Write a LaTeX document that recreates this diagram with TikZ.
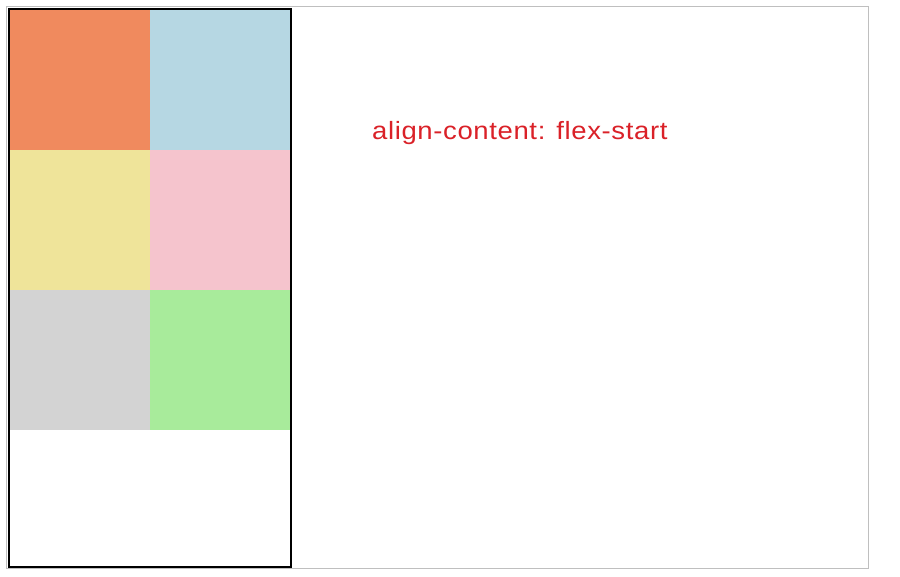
\documentclass[tikz,border=0pt]{standalone}
\usepackage{fontspec}
\setmainfont{Liberation Sans}
\newfontfamily\captionfont[FakeStretch=1.1,LetterSpace=2.5]{Liberation Sans}
\definecolor{boxOrange}{RGB}{240,138,94}
\definecolor{boxBlue}{RGB}{182,215,227}
\definecolor{boxYellow}{RGB}{239,228,154}
\definecolor{boxPink}{RGB}{245,196,205}
\definecolor{boxGray}{RGB}{211,211,211}
\definecolor{boxGreen}{RGB}{168,235,155}
\definecolor{labelRed}{RGB}{218,33,40}
\usetikzlibrary{positioning}

\begin{document}
\begin{tikzpicture}[x=1pt,y=-1pt,
    item/.style={minimum size=140pt,inner sep=0pt,outer sep=0pt,anchor=north west}]
        \useasboundingbox (0,0) rectangle (900,576);
        % outer frame
        \draw[gray!50,line width=1.5pt] (6.5,6.5) rectangle (868.5,568.5);
        % flex container
        \draw[black,line width=2pt] (9,9) rectangle (291,567);
        % items, two per row
        \node[item,fill=boxOrange] (itemA) at (10,10) {};
        \node[item,fill=boxBlue] (itemB) at (150,10) {};
        \node[item,fill=boxYellow] (itemC) at (10,150) {};
        \node[item,fill=boxPink] (itemD) at (150,150) {};
        \node[item,fill=boxGray] (itemE) at (10,290) {};
        \node[item,fill=boxGreen] (itemF) at (150,290) {};
        % caption
        \node[anchor=base west,inner sep=0pt,text=labelRed,font=\captionfont\fontsize{25}{30}\selectfont]
          (caption) at (372,139) {align-content: flex-start};
      \end{tikzpicture}
\end{document}
